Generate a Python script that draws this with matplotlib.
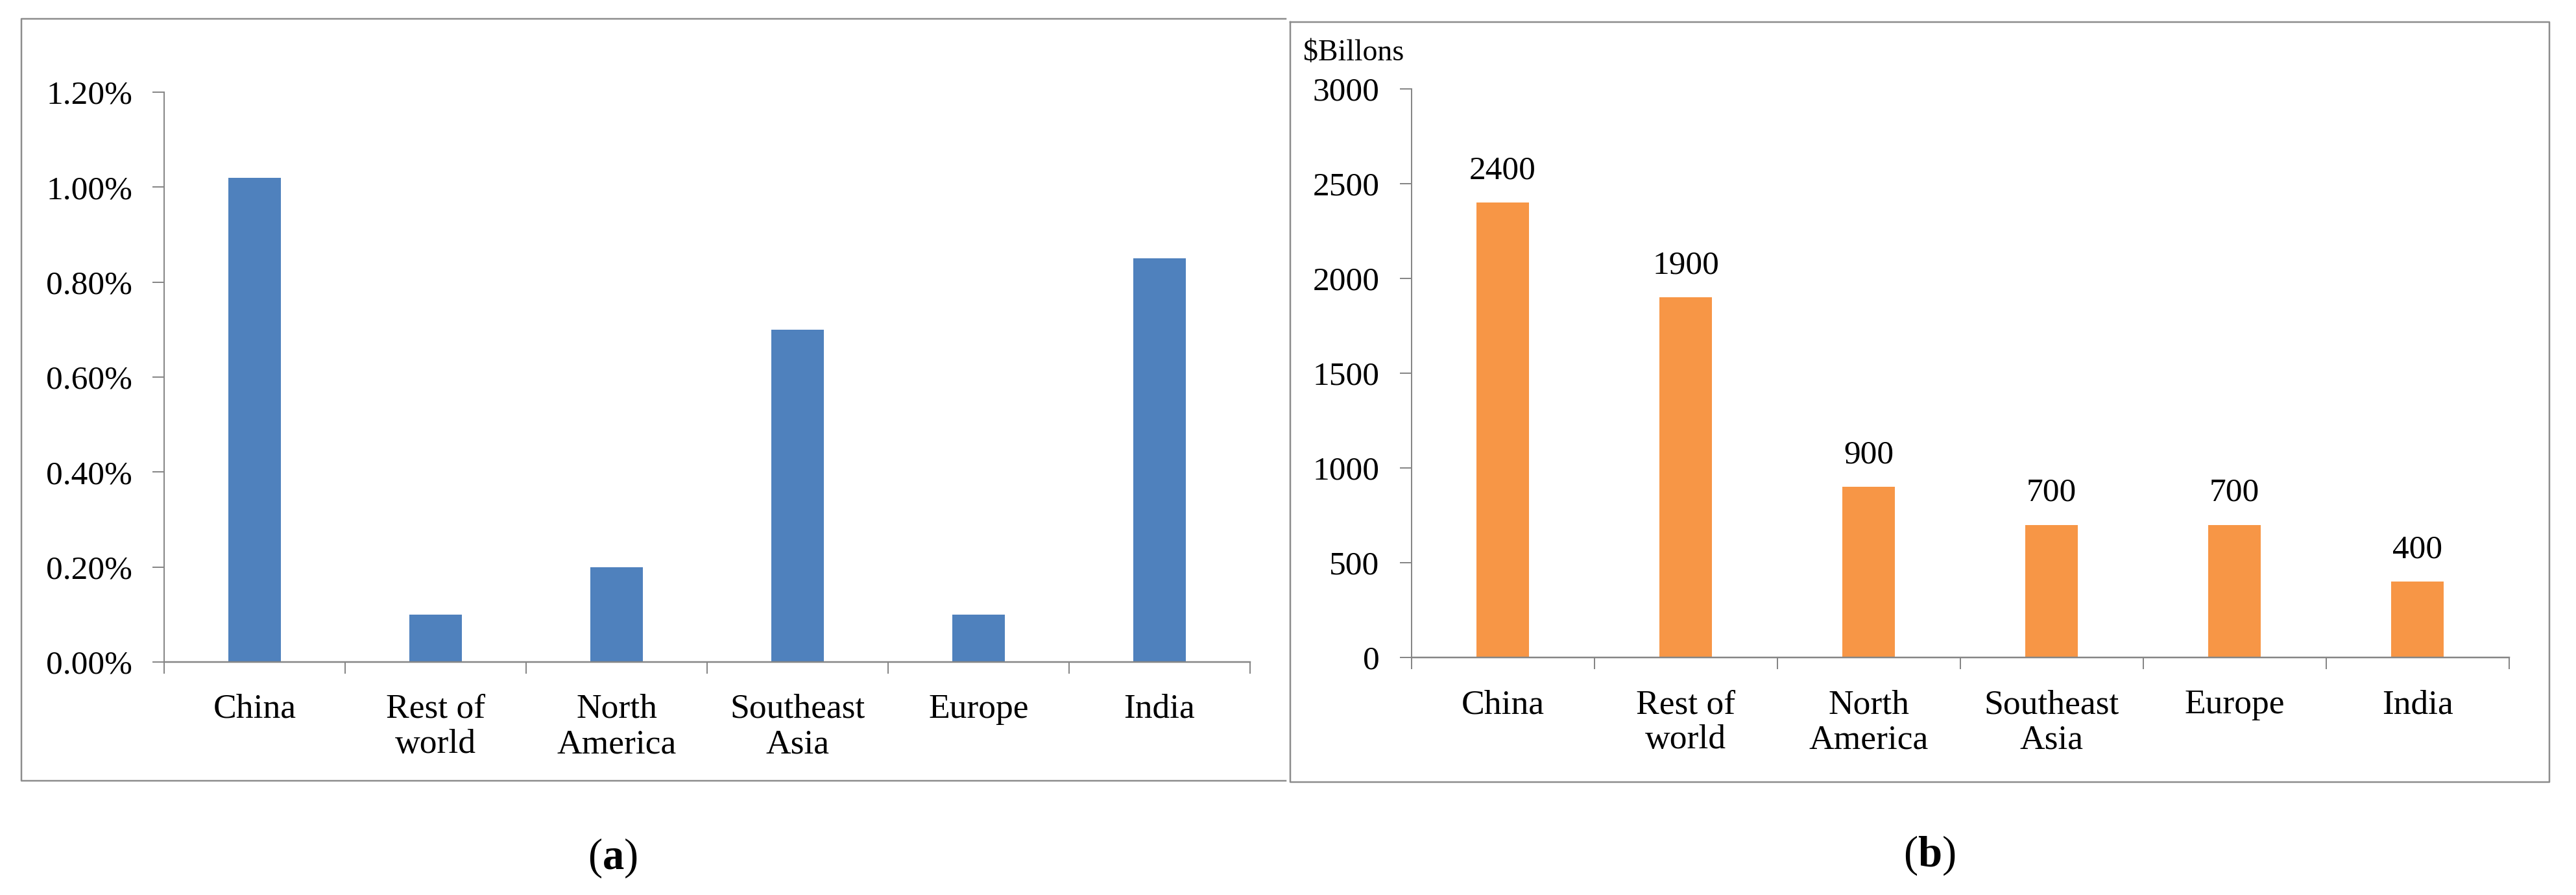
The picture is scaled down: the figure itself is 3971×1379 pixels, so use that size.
import matplotlib
matplotlib.use("Agg")
import matplotlib.pyplot as plt
from matplotlib.lines import Line2D
import numpy as np

plt.rcParams['font.family'] = ['Liberation Serif', 'DejaVu Serif']
plt.rcParams['mathtext.fontset'] = 'custom'
plt.rcParams['mathtext.rm'] = 'Liberation Serif'
plt.rcParams['mathtext.bf'] = 'Liberation Serif:bold'

categories = ["China", "Rest of\nworld", "North\nAmerica", "Southeast\nAsia", "Europe", "India"]
share_pct = [1.02, 0.10, 0.20, 0.70, 0.10, 0.85]
billions = [2400, 1900, 900, 700, 700, 400]
left_yticks = [0.0, 0.2, 0.4, 0.6, 0.8, 1.0, 1.2]
right_yticks = [0, 500, 1000, 1500, 2000, 2500, 3000]

W, H = 3971, 1379
DPI = 100
fig = plt.figure(figsize=(W / DPI, H / DPI), dpi=DPI)

BLUE = "#4F81BD"
ORANGE = "#F79646"
AXC = "#868686"
BORDER = "#8C8C8C"
FS = 37
CFS = 38.5
px = 72.0 / DPI  # points per pixel


def fx(x):
    return x / W


def fy(y):
    return 1 - y / H


def setup(ax, values, color, yticks, ylabels, ymax):
    x = np.arange(len(values))
    bars = ax.bar(x, values, width=0.29, color=color, zorder=2)
    ax.set_xlim(-0.5, len(values) - 0.5)
    ax.set_ylim(0, ymax)
    for s in ("top", "right"):
        ax.spines[s].set_visible(False)
    ax.spines["left"].set_color(AXC)
    ax.spines["left"].set_linewidth(2 * px)
    ax.spines["bottom"].set_color(AXC)
    ax.spines["bottom"].set_linewidth(2.5 * px)
    ax.set_yticks(yticks)
    ax.set_yticklabels(ylabels)
    ax.tick_params(axis="y", direction="out", length=18 * px, width=2 * px,
                   color=AXC, labelsize=FS, pad=31 * px)
    ax.set_xticks(np.arange(len(values) + 1) - 0.5)
    ax.set_xticklabels([""] * (len(values) + 1))
    ax.tick_params(axis="x", which="major", direction="out", length=18 * px,
                   width=2 * px, color=AXC)
    ax.set_xticks(x, minor=True)
    ax.set_xticklabels(categories, minor=True, fontsize=CFS, linespacing=1.17)
    ax.tick_params(axis="x", which="minor", length=0, pad=49 * px)
    for lbl in ax.get_xticklabels(minor=True):
        lbl.set_multialignment("center")
    ax.set_facecolor("none")
    return bars


# Left panel (a)
ax1 = fig.add_axes([fx(253), fy(1020), fx(1927 - 253), (1020 - 142) / H])
setup(ax1, share_pct, BLUE, left_yticks, [f"{v:.2f}%" for v in left_yticks], 1.2)

# Right panel (b)
ax2 = fig.add_axes([fx(2175.5), fy(1013), fx(3867.5 - 2175.5), (1013 - 137) / H])
bars2 = setup(ax2, billions, ORANGE, right_yticks, [str(v) for v in right_yticks], 3000)
for xi, v in enumerate(billions):
    ax2.annotate(str(v), xy=(xi, v), xytext=(0, 37 * px), textcoords="offset points",
                 ha="center", va="baseline", fontsize=FS)

fig.text(fx(2009), fy(82), "$Billons", ha="left", va="center", fontsize=33)

# Panel borders
lw = 2.5 * px
fig.add_artist(Line2D([fx(1982), fx(33), fx(33), fx(1982)], [fy(29), fy(29), fy(1203), fy(1203)],
                      transform=fig.transFigure, color=BORDER, lw=lw))
fig.add_artist(Line2D([fx(1989), fx(3930), fx(3930), fx(1989), fx(1989)],
                      [fy(34), fy(34), fy(1205), fy(1205), fy(34)],
                      transform=fig.transFigure, color=BORDER, lw=lw))

# Sub-figure labels
fig.text(fx(944), fy(1322), r"($\mathbf{a}$)", ha="center", va="center", fontsize=48)
fig.text(fx(2974), fy(1318), r"($\mathbf{b}$)", ha="center", va="center", fontsize=48)

fig.savefig("out.png", dpi=DPI, facecolor="white")
